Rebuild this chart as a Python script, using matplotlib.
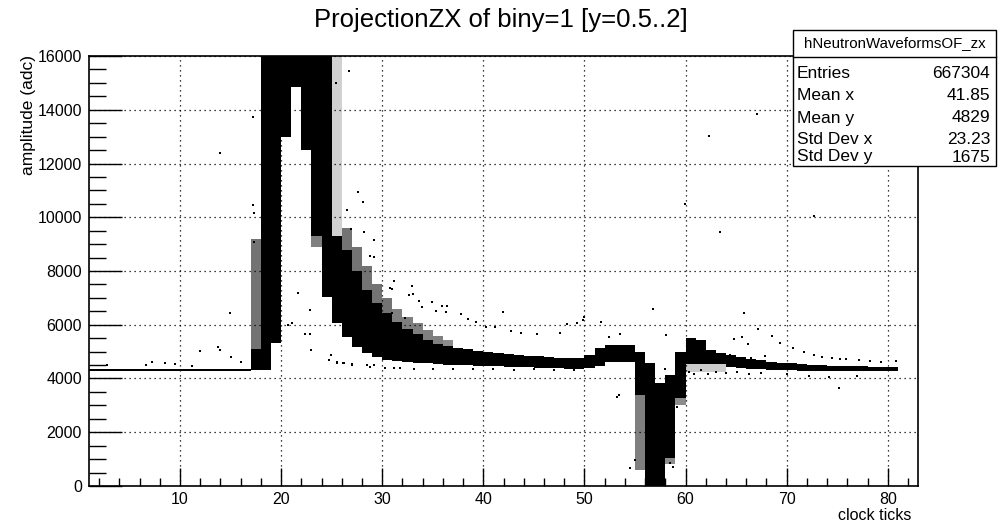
import numpy as np
import matplotlib
matplotlib.use("Agg")
import matplotlib.pyplot as plt

plt.rcParams['font.family'] = ['Liberation Sans', 'DejaVu Sans']

# bins of width 1 starting at each clock tick
clock = np.arange(1, 81)

# dense band per clock tick (adc)
core_lo = [4290] * 16 + [
    4300, 4300, 5320, 13000, 14850, 12500, 9300, 7040, 6060, 5560,
    5170, 4950, 4800, 4700, 4650, 4600, 4580, 4560, 4540, 4520,
    4500, 4490, 4480, 4470, 4450, 4440, 4420, 4410, 4400, 4390,
    4380, 4370, 4360, 4380, 4450, 4620, 4630, 4630, 3400, 0,
    0, 1040, 3280, 4530, 4530, 4530, 4530, 4420, 4390, 4370,
    4350, 4330, 4310, 4300, 4290, 4290, 4280, 4280, 4280, 4280,
    4280, 4280, 4280, 4280]
core_hi = [4370] * 16 + [
    5100, 16000, 16000, 16000, 16000, 16000, 16000, 16000, 9300, 8800,
    8000, 7300, 6800, 6450, 6100, 5850, 5650, 5450, 5300, 5200,
    5130, 5080, 5030, 4990, 4950, 4910, 4880, 4850, 4820, 4790,
    4770, 4760, 4750, 4870, 5120, 5250, 5250, 5250, 5000, 4570,
    3850, 4130, 5000, 5500, 5440, 5060, 4950, 4870, 4800, 4720,
    4670, 4630, 4590, 4560, 4540, 4520, 4500, 4480, 4470, 4460,
    4450, 4440, 4430, 4430]

# sparser speckled parts of the band
halo_x = [17, 23, 25, 26, 27, 28, 29, 30, 31, 32, 33, 34, 35, 36,
          55, 58, 59, 60, 61, 62, 63]
halo_lo = [5100, 8900, 9300, 8800, 8000, 7300, 6800, 6450, 6100, 5850, 5650, 5450, 5300, 5200,
           600, 800, 3000, 4250, 4250, 4250, 4250]
halo_hi = [9200, 9300, 16000, 9600, 8900, 8200, 7500, 7000, 6600, 6300, 6050, 5800, 5600, 5450,
           3400, 1040, 3280, 4530, 4530, 4530, 4530]
halo_density = [0.55, 0.5, 0.18, 0.55, 0.55, 0.55, 0.55, 0.55, 0.5, 0.5, 0.5, 0.5, 0.5, 0.45,
                0.5, 0.45, 0.45, 0.2, 0.2, 0.2, 0.2]

# isolated entries
dots_x = [2.8, 6.6, 7.2, 8.5, 9.5, 11.2, 12.0, 13.8, 14.0, 15.0, 16.0, 14.9, 14.0, 17.2,
          17.2, 17.3, 17.3, 21.7, 22.9, 20.7, 21.1, 22.4, 22.9, 23.0, 24.9, 24.7, 25.5,
          26.1, 27.0, 28.8, 26.7, 25.4, 27.6, 28.1, 28.2, 29.2, 26.5, 26.9, 28.8, 29.2,
          31.2, 31.0, 30.8, 32.9, 32.6, 33.0, 33.6, 34.9, 35.9, 35.3, 36.3, 37.8, 38.5,
          39.3, 41.9, 40.3, 41.2, 42.7, 43.7, 45.3, 47.6, 48.3, 49.3, 49.9, 50.0, 51.6,
          52.4, 53.5, 33.9, 36.4, 31.0, 32.3,
          25.5, 26.2, 27.0, 28.5, 29.2, 30.3, 31.2, 31.8, 33.1, 35.0, 37.0, 39.0, 41.0,
          43.0, 45.0, 47.0, 49.0,
          53.4, 53.2, 54.5, 55.0, 56.8, 58.1, 58.0, 58.5, 58.8, 59.2,
          65.8, 64.8, 65.6, 66.2, 67.2, 68.6, 69.3, 70.6, 71.7, 72.7, 73.5, 74.5, 75.3,
          75.9, 77.2, 78.2, 79.3, 80.8, 75.2, 64.4, 66.5, 67.9,
          60.3, 60.8, 61.5, 62.2, 63.0, 64.0, 65.1, 66.3, 67.5, 70.0, 72.2, 74.2, 77.0,
          62.3, 63.4, 59.9, 67.1, 72.7]
dots_y = [4500, 4500, 4630, 4570, 4530, 4470, 5020, 5170, 5060, 4810, 4630, 6430, 12380, 13740,
          10460, 10150, 9090, 7170, 6550, 5990, 6050, 5640, 5640, 5060, 4870, 4690, 4630,
          4560, 4500, 4440, 15440, 14980, 10950, 10580, 9460, 9150, 10270, 9550, 8560, 8510,
          7640, 7330, 7360, 7440, 7110, 7130, 6880, 6840, 6710, 6520, 6490, 6390, 6200,
          6090, 6460, 5930, 5930, 5780, 5680, 5640, 5700, 6020, 6080, 6180, 6300, 6110,
          5560, 5660, 6670, 6700, 6450, 6240,
          4590, 4590, 4540, 4500, 4500, 4380, 4380, 4380, 4340, 4350, 4350, 4340, 4340,
          4330, 4340, 4330, 4320,
          3390, 3320, 660, 970, 6570, 5620, 4340, 840, 720, 2950,
          6430, 5460, 5560, 5270, 5840, 5590, 5330, 5150, 4970, 4870, 4790, 4780, 4730,
          4730, 4690, 4650, 4630, 4660, 3660, 4870, 4760, 4840,
          4250, 4180, 4300, 4150, 4260, 4200, 4230, 4150, 4220, 4180, 4100, 4050, 4100,
          13020, 9450, 10490, 13840, 10050]

fig = plt.figure(figsize=(10.05, 5.25), dpi=100)
ax = fig.add_axes([0.0886, 0.0743, 0.8249, 0.819])

lo = np.array(core_lo)
hi = np.array(core_hi)
ax.bar(clock, hi - lo, bottom=lo, width=1, align='edge', color='black', linewidth=0, zorder=3)
for x, l, h, d in zip(halo_x, halo_lo, halo_hi, halo_density):
    ax.bar(x, h - l, bottom=l, width=1, align='edge', color='black', alpha=d, linewidth=0, zorder=3)
ax.scatter(dots_x, dots_y, s=2.2, marker='s', color='black', linewidths=0, zorder=4)

ax.set_xlim(1, 83)
ax.set_ylim(0, 16000)
ax.set_xticks(np.arange(10, 81, 10))
ax.set_xticks(np.arange(2, 83, 2), minor=True)
ax.set_yticks(np.arange(0, 16001, 2000))
ax.set_yticks(np.arange(0, 16001, 500), minor=True)
ax.tick_params(which='both', direction='in', top=False, right=False, labelsize=11.5, width=1)
ax.tick_params(axis='x', which='major', length=13, pad=4)
ax.tick_params(axis='x', which='minor', length=6)
ax.tick_params(axis='y', which='major', length=24, pad=5)
ax.tick_params(axis='y', which='minor', length=12)
ax.grid(True, which='major', color='black', linestyle=(0, (1, 3)), linewidth=0.9, zorder=1)
for sp in ax.spines.values():
    sp.set_linewidth(1.2)

fig.text(0.4985, 1 - 20 / 525, 'ProjectionZX of biny=1 [y=0.5..2]', ha='center', va='center',
         fontsize=18.5)
fig.text(911 / 1005, 1 - 516 / 525, 'clock ticks', ha='right', va='center', fontsize=11.5)
fig.text(29 / 1005, 1 - 55 / 525, 'amplitude (adc)', ha='center', va='top', rotation=90,
         fontsize=12.5)

# stats box
bx0, bx1 = 793 / 1005, 996 / 1005
by_top, by_sep, by_bot = 1 - 30 / 525, 1 - 57 / 525, 1 - 166 / 525
fig.patches.append(plt.Rectangle((bx0, by_bot), bx1 - bx0, by_top - by_bot, transform=fig.transFigure,
                                 facecolor='white', edgecolor='black', linewidth=1, zorder=10))
fig.lines.append(plt.Line2D([bx0, bx1], [by_sep, by_sep], transform=fig.transFigure,
                            color='black', linewidth=1, zorder=11))
fig.text((bx0 + bx1) / 2, 1 - 43.5 / 525, 'hNeutronWaveformsOF_zx', ha='center', va='center',
         fontsize=10.8, zorder=12)
stat_names = ['Entries', 'Mean x', 'Mean y', 'Std Dev x', 'Std Dev y']
stat_values = ['667304', '41.85', '4829', '23.23', '1675']
row_y = [73, 96, 118, 140, 157]
for name, val, ry in zip(stat_names, stat_values, row_y):
    fig.text(797 / 1005, 1 - ry / 525, name, ha='left', va='center', fontsize=12.5, zorder=12)
    fig.text(990 / 1005, 1 - ry / 525, val, ha='right', va='center', fontsize=12.5, zorder=12)

fig.savefig('out.png', dpi=100)
